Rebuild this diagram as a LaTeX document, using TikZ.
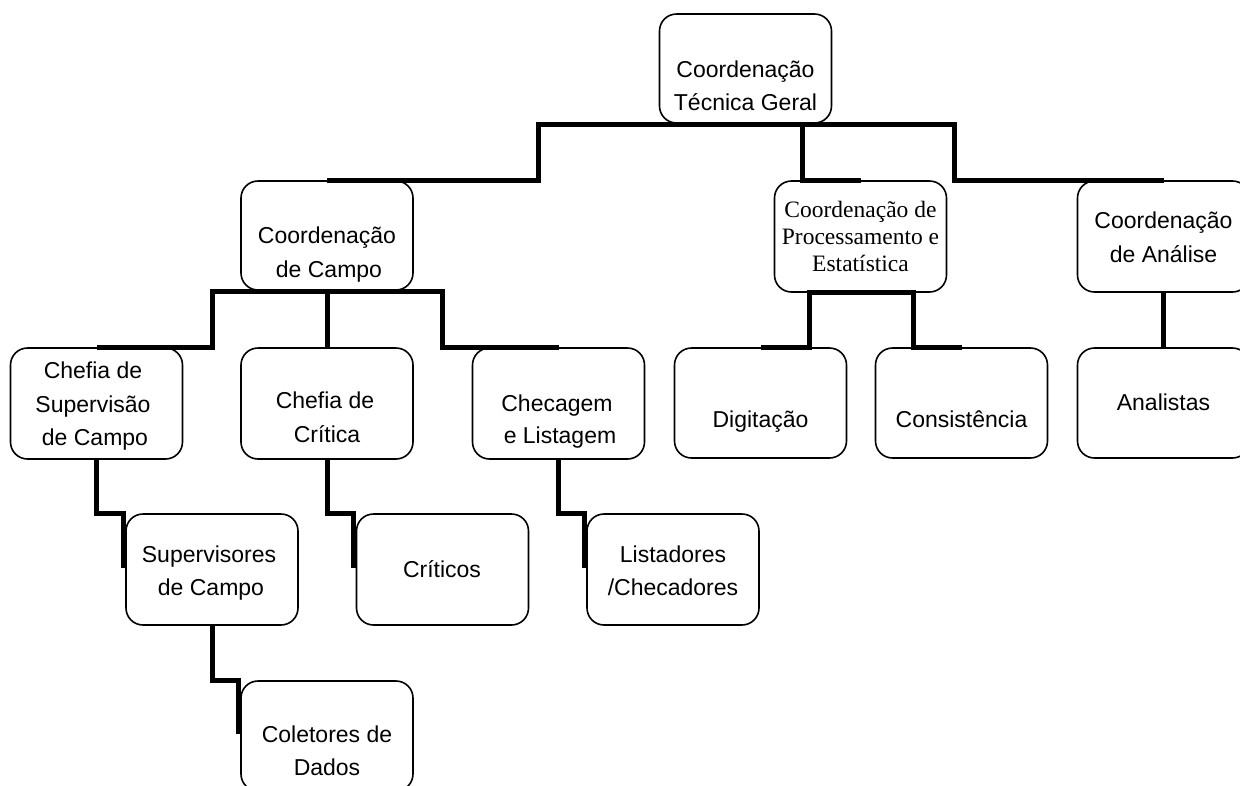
\documentclass[tikz,border=0pt]{standalone}
\usepackage{fontspec}
\setmainfont{Liberation Sans}
\newfontfamily\serifx{Liberation Serif}
\begin{document}
\begin{tikzpicture}[x=1pt,y=-1pt,
  box/.style={draw, line width=1.6pt, rounded corners=17pt, minimum width=172pt, minimum height=110pt, inner sep=0pt},
  conn/.style={line width=5pt, line join=miter},
  txt/.style={anchor=base, inner sep=0pt, font=\fontsize{23}{28}\selectfont},
  stxt/.style={anchor=base, inner sep=0pt, font=\serifx\fontsize{23.5}{28}\selectfont}]
\useasboundingbox (0,0) rectangle (1240,785);
\fill[white] (0,0) rectangle (1240,785);
\clip (0,0) rectangle (1240,785);
% boxes
\node[box, minimum height=109pt] (ctg) at (745.5,68.5) {};
\node[box, minimum height=109pt] (cc) at (327,235.5) {};
\node[box, minimum height=111pt] (cpe) at (860.5,236.5) {};
\node[box, minimum height=111pt] (ca) at (1163.5,236.5) {};
\node[box, minimum height=111pt] (cs) at (96.5,403.5) {};
\node[box, minimum height=111pt] (ccr) at (327,403.5) {};
\node[box, minimum height=111pt] (cl) at (558.5,403.5) {};
\node[box] (dig) at (760.5,403) {};
\node[box] (con) at (961.5,403) {};
\node[box] (ana) at (1163.5,403) {};
\node[box, minimum height=111pt] (sup) at (212,569.5) {};
\node[box, minimum height=111pt] (cri) at (442.5,569.5) {};
\node[box, minimum height=111pt] (lis) at (673,569.5) {};
\node[box] (col) at (327,736) {};
% texts
\node[txt] (ctg1) at (745.5,77) {Coordenação};
\node[txt] (ctg2) at (745.5,110) {Técnica Geral};
\node[txt] (cc1) at (327,243) {Coordenação};
\node[txt] (cc2) at (329,277) {de Campo};
\node[stxt] (cpe1) at (860.5,217) {Coordenação de};
\node[stxt] (cpe2) at (860.5,244) {Processamento e};
\node[stxt] (cpe3) at (860.5,271) {Estatística};
\node[txt] (ca1) at (1163.5,228) {Coordenação};
\node[txt] (ca2) at (1163.5,262) {de Análise};
\node[txt] (cs1) at (93,378) {Chefia de};
\node[txt] (cs2) at (93,412) {Supervisão};
\node[txt] (cs3) at (95,445) {de Campo};
\node[txt] (ccr1) at (325,408) {Chefia de};
\node[txt] (ccr2) at (327,442) {Crítica};
\node[txt] (cl1) at (557,411) {Checagem};
\node[txt] (cl2) at (560,443) {e Listagem};
\node[txt] (dig1) at (760.5,427) {Digitação};
\node[txt] (con1) at (961.5,427) {Consistência};
\node[txt] (ana1) at (1163.5,410) {Analistas};
\node[txt] (sup1) at (209,562) {Supervisores};
\node[txt] (sup2) at (211,595) {de Campo};
\node[txt] (cri1) at (442,577) {Críticos};
\node[txt] (lis1) at (673,562) {Listadores};
\node[txt] (lis2) at (673,595) {/Checadores};
\node[txt] (col1) at (327,742) {Coletores de};
\node[txt] (col2) at (327,775) {Dados};
% connectors
\draw[conn] ([yshift=-1pt]ctg.south) -| ([xshift=211pt]cc.north) -- (cc.north);
\draw[conn] ([yshift=-1pt]ctg.south) -| ([xshift=-58pt]cpe.north) -- (cpe.north);
\draw[conn] ([yshift=-1pt]ctg.south) -| ([xshift=-209pt]ca.north) -- (ca.north);
\draw[conn] ([yshift=-1pt]cc.south) -| ([xshift=116pt]cs.north) -- (cs.north);
\draw[conn] ([yshift=-1pt]cc.south) -- (ccr.north);
\draw[conn] ([yshift=-1pt]cc.south) -| ([xshift=-116pt]cl.north) -- (cl.north);
\draw[conn] (cpe.south) -| ([xshift=48.5pt]dig.north) -- (dig.north);
\draw[conn] (cpe.south) -| ([xshift=-48.5pt]con.north) -- (con.north);
\draw[conn] (ca.south) -- (ana.north);
\draw[conn] (cs.south) -- ++(0,54) -| ([xshift=-2pt,yshift=2pt]sup.west);
\draw[conn] (ccr.south) -- ++(0,54) -| ([xshift=-2pt,yshift=2pt]cri.west);
\draw[conn] (cl.south) -- ++(0,54) -| ([xshift=-2pt,yshift=2pt]lis.west);
\draw[conn] (sup.south) -- ++(0,55) -| ([xshift=-2pt,yshift=2pt]col.west);
\end{tikzpicture}
\end{document}
